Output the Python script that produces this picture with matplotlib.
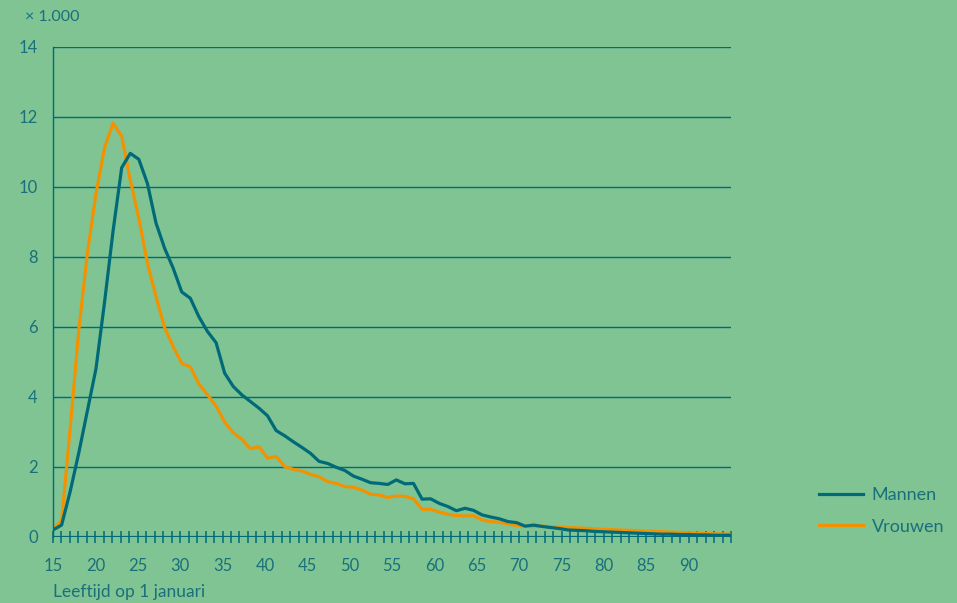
import numpy as np
import matplotlib.pyplot as plt

# ages 15..94, values x 1.000
ages = np.arange(15, 95)

mannen = [
    0.20, 0.34, 1.30, 2.40, 3.60, 4.80, 6.70, 8.75, 10.55, 10.96,
    10.79, 10.10, 8.97, 8.25, 7.68, 7.00, 6.82, 6.29, 5.87, 5.55,
    4.68, 4.30, 4.06, 3.87, 3.68, 3.46, 3.04, 2.89, 2.72, 2.56,
    2.39, 2.16, 2.10, 1.99, 1.90, 1.74, 1.65, 1.55, 1.53, 1.50,
    1.63, 1.52, 1.53, 1.08, 1.09, 0.96, 0.87, 0.75, 0.82, 0.76,
    0.63, 0.57, 0.52, 0.44, 0.41, 0.31, 0.34, 0.30, 0.27, 0.24,
    0.20, 0.19, 0.18, 0.16, 0.15, 0.14, 0.13, 0.12, 0.11, 0.10,
    0.09, 0.08, 0.08, 0.07, 0.07, 0.06, 0.06, 0.05, 0.05, 0.05,
]

vrouwen = [
    0.22, 0.46, 3.10, 5.90, 8.10, 9.80, 11.12, 11.82, 11.45, 10.20,
    9.10, 7.82, 6.87, 5.98, 5.44, 4.96, 4.86, 4.37, 4.06, 3.74,
    3.28, 2.98, 2.79, 2.52, 2.58, 2.25, 2.30, 2.01, 1.93, 1.89,
    1.79, 1.72, 1.58, 1.53, 1.44, 1.42, 1.34, 1.22, 1.20, 1.13,
    1.17, 1.16, 1.09, 0.79, 0.79, 0.71, 0.65, 0.61, 0.60, 0.61,
    0.49, 0.44, 0.42, 0.37, 0.33, 0.31, 0.30, 0.31, 0.29, 0.28,
    0.27, 0.26, 0.25, 0.23, 0.22, 0.21, 0.20, 0.19, 0.18, 0.17,
    0.16, 0.15, 0.14, 0.13, 0.12, 0.11, 0.10, 0.09, 0.085, 0.08,
]

xticks = list(range(15, 95, 5))
yticks = [0, 2, 4, 6, 8, 10, 12, 14]

bg = "#80c494"
teal = "#006a78"
orange = "#f39200"
txt = "#19707a"

plt.rcParams['font.family'] = ['Lato', 'DejaVu Sans']

fig = plt.figure(figsize=(9.57, 6.03), dpi=100, facecolor=bg)
ax = fig.add_axes([0.0554, 0.1095, 0.7085, 0.8126], facecolor=bg)

# the points are spread over the whole axis width (15..95)
xpos = 15 + np.arange(len(ages)) * 80 / (len(ages) - 1)
ax.plot(xpos, mannen, color=teal, lw=2.3, label="Mannen", zorder=3)
ax.plot(xpos, vrouwen, color=orange, lw=2.3, label="Vrouwen", zorder=2)

ax.set_xlim(15, 95)
ax.set_ylim(0, 14)

for y in yticks[1:]:
    ax.axhline(y, color=teal, lw=1.0, zorder=1)
ax.axhline(0, color=teal, lw=1.6, zorder=4)

for s in ["top", "right", "bottom"]:
    ax.spines[s].set_visible(False)
ax.spines["left"].set_color(teal)
ax.spines["left"].set_linewidth(1.0)

ax.set_yticks(yticks)
ax.set_yticklabels([str(v) for v in yticks])
ax.tick_params(axis="y", length=0, pad=11, labelsize=12, labelcolor=txt)

ax.set_xticks(range(15, 96), minor=True)
ax.set_xticks(xticks)
ax.set_xticklabels([str(v) for v in xticks])
ax.tick_params(axis="x", which="both", direction="inout", length=8,
               width=1.1, color=teal)
ax.tick_params(axis="x", which="major", pad=11, labelsize=12, labelcolor=txt)

fig.text(25 / 957, 1 - 17 / 603, "× 1.000", color=txt, fontsize=11.5,
         va="center", ha="left")
fig.text(53 / 957, 1 - 592 / 603, "Leeftijd op 1 januari", color=txt,
         fontsize=12.5, va="center", ha="left")

fig.legend(loc="center left", bbox_to_anchor=(803 / 957, 1 - 511 / 603),
           frameon=False, fontsize=13, labelcolor=txt, handlelength=2.4,
           handletextpad=0.5, labelspacing=0.85)

fig.savefig("out.png", dpi=100, facecolor=bg)
